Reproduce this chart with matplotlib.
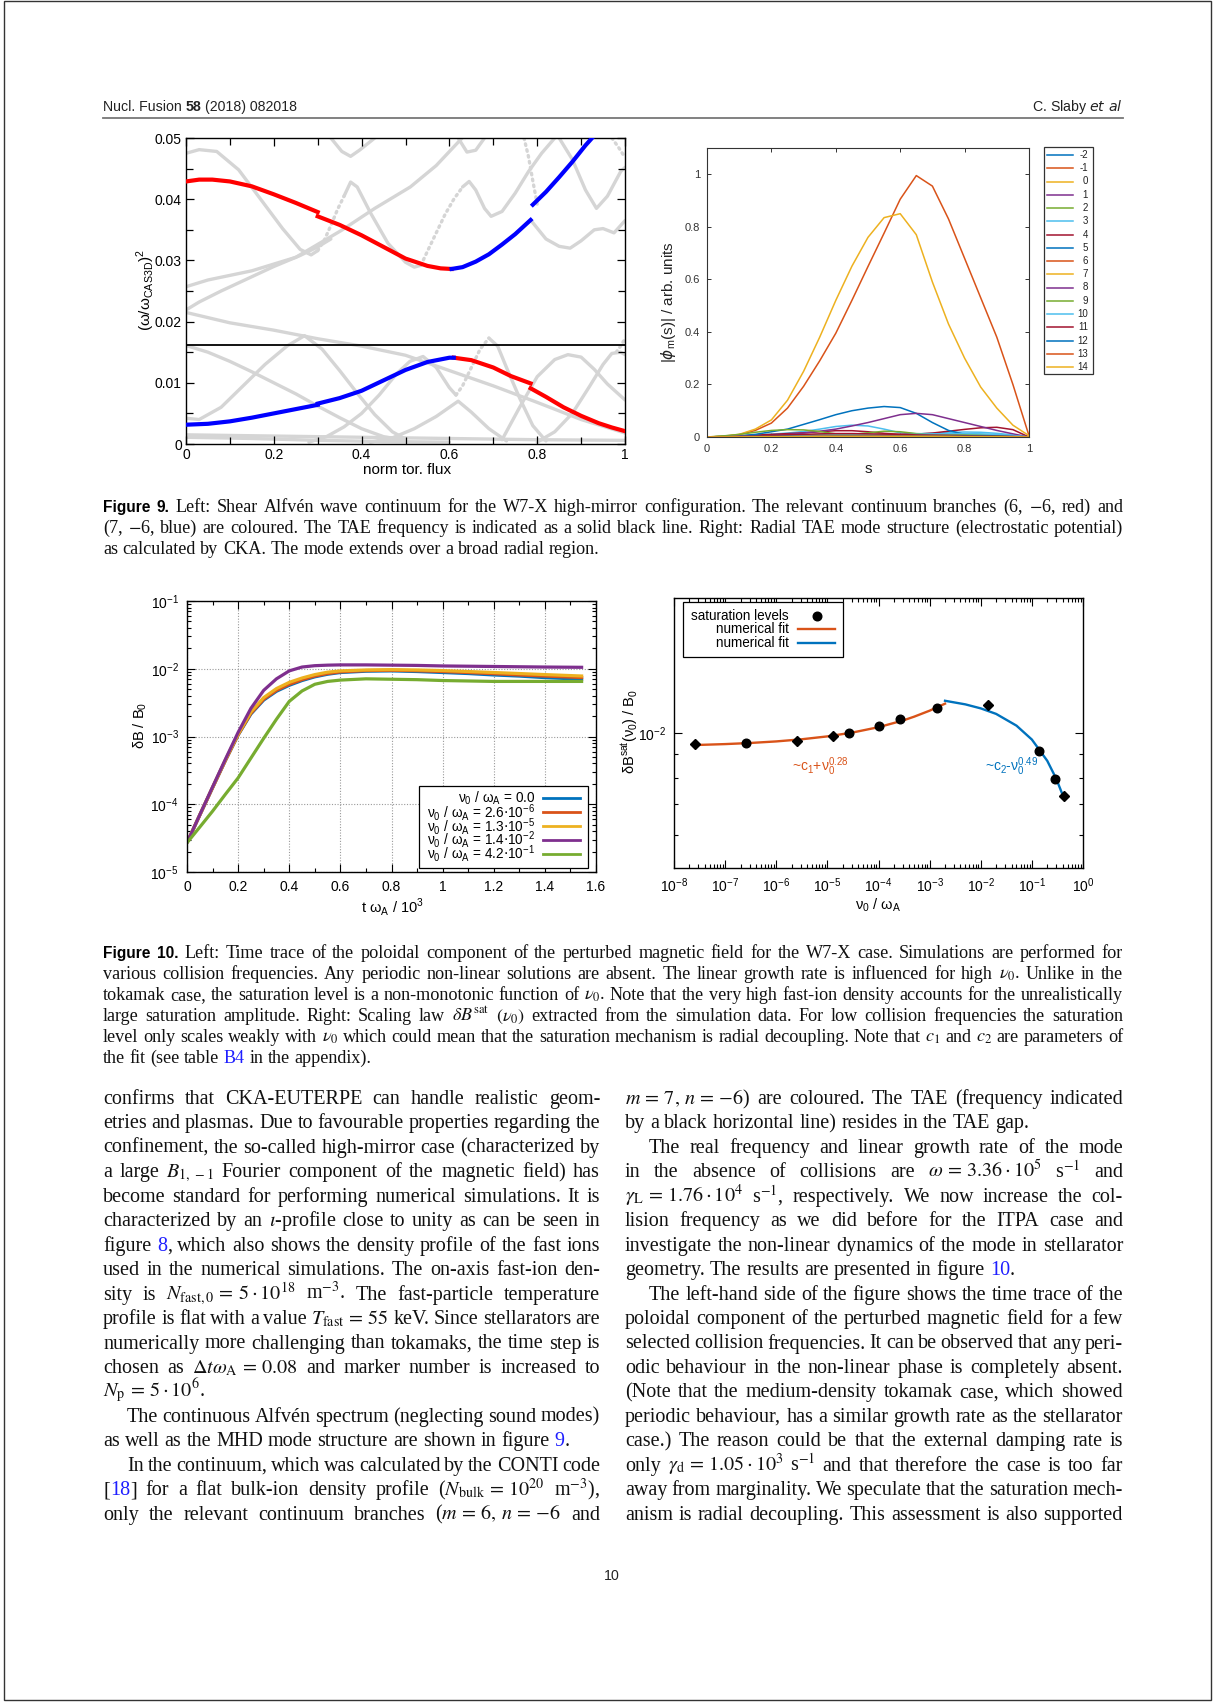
import matplotlib
matplotlib.use("Agg")
import matplotlib.pyplot as plt
from matplotlib.lines import Line2D
from matplotlib.patches import Rectangle
from matplotlib.ticker import FixedLocator, LogLocator, NullFormatter

plt.rcParams['font.family'] = ['Liberation Sans', 'DejaVu Sans']
plt.rcParams['mathtext.fontset'] = 'dejavusans'

# ---------------------------------------------------------------- data
# figure 9 left: shear Alfven continuum, (x = norm. tor. flux, y = (w/w_CAS3D)^2)
TAE_FREQ = 0.0161
GRAY_SOLID = [
    ([0, 0.03, 0.07, 0.12, 0.17, 0.22, 0.26, 0.285, 0.30],
     [0.0475, 0.0481, 0.0478, 0.0448, 0.0400, 0.0352, 0.0318, 0.0309, 0.0316]),
    ([0.36, 0.375, 0.39, 0.42, 0.46, 0.50, 0.52, 0.535],
     [0.0405, 0.0428, 0.0420, 0.0378, 0.0328, 0.0297, 0.0289, 0.0292]),
    ([0.63, 0.645, 0.66, 0.68, 0.695, 0.72, 0.75, 0.78, 0.81, 0.84],
     [0.0420, 0.0429, 0.0415, 0.0385, 0.0372, 0.0380, 0.0410, 0.0445, 0.0475, 0.0500]),
    ([0.785, 0.82, 0.85, 0.875, 0.90, 0.93, 0.95, 0.975, 1.0],
     [0.0366, 0.0335, 0.0323, 0.0320, 0.0332, 0.0350, 0.0352, 0.0345, 0.0365]),
    ([0.85, 0.88, 0.91, 0.935, 0.96, 0.99, 1.0],
     [0.0500, 0.0465, 0.0415, 0.0385, 0.0405, 0.0445, 0.0452]),
    ([0, 0.05, 0.15, 0.25, 0.354, 0.43, 0.511, 0.57, 0.629],
     [0.0257, 0.0268, 0.0283, 0.0305, 0.0349, 0.0385, 0.0420, 0.0455, 0.0500]),
    ([0, 0.03, 0.08, 0.14, 0.20, 0.26, 0.30, 0.33],
     [0.0219, 0.0232, 0.0250, 0.0270, 0.0290, 0.0308, 0.0322, 0.0335]),
    ([0.33, 0.355, 0.375, 0.395, 0.43],
     [0.0500, 0.0478, 0.0470, 0.0480, 0.0500]),
    ([0.62, 0.64, 0.66, 0.68],
     [0.0500, 0.0477, 0.0480, 0.0500]),
    ([0, 0.1, 0.2, 0.3, 0.4, 0.5, 0.6, 0.7, 0.8, 0.9, 1.0],
     [0.0215, 0.0198, 0.0186, 0.0172, 0.0160, 0.0145, 0.0120, 0.0095, 0.0068, 0.0040, 0.0018]),
    ([0, 0.05, 0.1, 0.15, 0.2, 0.25, 0.3, 0.35, 0.4, 0.45, 0.5],
     [0.0161, 0.0150, 0.0135, 0.0118, 0.0100, 0.0082, 0.0062, 0.0043, 0.0025, 0.0012, 0.0006]),
    ([0, 0.03, 0.08, 0.13, 0.18, 0.23, 0.27, 0.31, 0.35, 0.39, 0.43, 0.47, 0.5],
     [0.0042, 0.0040, 0.0060, 0.0095, 0.0130, 0.0160, 0.0177, 0.0155, 0.0120, 0.0083, 0.0048, 0.0020, 0.0008]),
    ([0, 0.2, 0.4, 0.6, 0.8, 1.0],
     [0.0015, 0.0013, 0.0011, 0.0009, 0.0007, 0.0006]),
    ([0, 0.15, 0.3, 0.45, 0.6],
     [0.0011, 0.0009, 0.0006, 0.0004, 0.0003]),
    ([0.28, 0.32, 0.36, 0.40, 0.44, 0.48, 0.51, 0.54, 0.57, 0.60, 0.615],
     [0.0003, 0.0012, 0.0028, 0.0050, 0.0080, 0.0115, 0.0135, 0.0143, 0.0125, 0.0092, 0.0080]),
    ([0.69, 0.71, 0.73, 0.76, 0.79, 0.82],
     [0.0173, 0.0160, 0.0125, 0.0075, 0.0030, 0.0005]),
    ([0.42, 0.47, 0.52, 0.57, 0.60, 0.62, 0.65, 0.69, 0.73],
     [0.0003, 0.0010, 0.0025, 0.0045, 0.0060, 0.0070, 0.0052, 0.0025, 0.0005]),
    ([0.72, 0.76, 0.80, 0.84, 0.87, 0.90, 0.93, 0.96, 1.0],
     [0.0007, 0.0060, 0.0110, 0.0138, 0.0146, 0.0142, 0.0122, 0.0098, 0.0072]),
    ([0.80, 0.84, 0.88, 0.92, 0.95, 0.97, 0.99, 1.0],
     [0.0003, 0.0020, 0.0050, 0.0095, 0.0130, 0.0148, 0.0150, 0.0146]),
]
GRAY_DOTTED = [
    ([0.30, 0.315, 0.33, 0.345, 0.36], [0.0316, 0.0333, 0.0357, 0.0383, 0.0405]),
    ([0.535, 0.55, 0.57, 0.59, 0.61, 0.63], [0.0292, 0.0315, 0.0345, 0.0375, 0.0400, 0.0420]),
    ([0.615, 0.63, 0.65, 0.67, 0.69], [0.0080, 0.0095, 0.0125, 0.0155, 0.0173]),
    ([0.77, 0.78, 0.79, 0.80], [0.0500, 0.0470, 0.0430, 0.0392]),
    ([0.97, 0.985, 1.0], [0.0500, 0.0485, 0.0468]),
    ([0.98, 0.99, 1.0], [0.0150, 0.0160, 0.0172]),
]
RED_BRANCH = [
    ([0, 0.03, 0.06, 0.1, 0.15, 0.2, 0.25, 0.3],
     [0.0429, 0.0432, 0.0432, 0.0429, 0.0421, 0.0408, 0.0394, 0.0379]),
    ([0.3, 0.35, 0.4, 0.45, 0.5, 0.55, 0.58, 0.605],
     [0.0372, 0.0358, 0.0341, 0.0322, 0.0303, 0.0291, 0.0287, 0.0286]),
    ([0.61, 0.65, 0.7, 0.74, 0.785], [0.0141, 0.0137, 0.0125, 0.0111, 0.0099]),
    ([0.785, 0.82, 0.86, 0.9, 0.94, 0.97, 1.0],
     [0.0091, 0.0077, 0.0060, 0.0046, 0.0034, 0.0027, 0.0021]),
]
BLUE_BRANCH = [
    ([0.605, 0.63, 0.66, 0.69, 0.72, 0.75, 0.785],
     [0.0286, 0.0289, 0.0298, 0.0310, 0.0326, 0.0343, 0.0366]),
    ([0.79, 0.82, 0.85, 0.88, 0.91, 0.925], [0.0391, 0.0412, 0.0436, 0.0461, 0.0488, 0.0500]),
    ([0, 0.05, 0.1, 0.15, 0.2, 0.25, 0.3],
     [0.00315, 0.0033, 0.0037, 0.0043, 0.0050, 0.0057, 0.0064]),
    ([0.3, 0.35, 0.4, 0.45, 0.5, 0.55, 0.6, 0.61],
     [0.0066, 0.0075, 0.0087, 0.0104, 0.0121, 0.0134, 0.0141, 0.0141]),
]

# figure 9 right: |phi_m(s)| per poloidal mode number
MODE_NUMBERS = [-2, -1, 0, 1, 2, 3, 4, 5, 6, 7, 8, 9, 10, 11, 12, 13, 14]
MODE_COLORS = ['#0072BD', '#D95319', '#EDB120', '#7E2F8E', '#77AC30', '#4DBEEE', '#A2142F']
S_GRID = [0, 0.05, 0.1, 0.15, 0.2, 0.25, 0.3, 0.35, 0.4, 0.45, 0.5,
          0.55, 0.6, 0.65, 0.7, 0.75, 0.8, 0.85, 0.9, 0.95, 1.0]
PHI = {
    -2: [0, 0, 0.001, 0.001, 0.002, 0.002, 0.002, 0.002, 0.002, 0.002, 0.002, 0.002, 0.002, 0.002, 0.001, 0.001, 0.001, 0.001, 0.001, 0, 0],
    -1: [0, 0, 0.001, 0.002, 0.002, 0.003, 0.003, 0.003, 0.003, 0.003, 0.003, 0.002, 0.002, 0.002, 0.002, 0.002, 0.001, 0.001, 0.001, 0, 0],
    0: [0, 0.001, 0.002, 0.003, 0.004, 0.004, 0.004, 0.005, 0.005, 0.005, 0.005, 0.004, 0.004, 0.004, 0.003, 0.003, 0.003, 0.002, 0.001, 0.001, 0],
    1: [0, 0.001, 0.002, 0.003, 0.004, 0.005, 0.006, 0.006, 0.006, 0.006, 0.006, 0.005, 0.005, 0.004, 0.004, 0.003, 0.003, 0.002, 0.002, 0.001, 0],
    2: [0, 0.002, 0.004, 0.006, 0.007, 0.008, 0.008, 0.008, 0.008, 0.008, 0.008, 0.007, 0.007, 0.006, 0.006, 0.005, 0.004, 0.003, 0.002, 0.001, 0],
    3: [0, 0.002, 0.004, 0.008, 0.011, 0.015, 0.021, 0.030, 0.040, 0.045, 0.042, 0.030, 0.016, 0.012, 0.014, 0.017, 0.019, 0.018, 0.014, 0.008, 0],
    4: [0, 0.002, 0.004, 0.007, 0.010, 0.013, 0.016, 0.020, 0.024, 0.024, 0.020, 0.014, 0.010, 0.011, 0.015, 0.022, 0.029, 0.035, 0.037, 0.028, 0],
    5: [0, 0.002, 0.004, 0.010, 0.020, 0.030, 0.048, 0.066, 0.085, 0.100, 0.110, 0.116, 0.112, 0.090, 0.055, 0.025, 0.010, 0.006, 0.004, 0.002, 0],
    6: [0, 0.002, 0.009, 0.025, 0.053, 0.110, 0.193, 0.290, 0.395, 0.520, 0.649, 0.776, 0.905, 0.995, 0.955, 0.830, 0.680, 0.530, 0.380, 0.200, 0.005],
    7: [0, 0.003, 0.010, 0.030, 0.065, 0.140, 0.250, 0.380, 0.520, 0.650, 0.760, 0.835, 0.850, 0.770, 0.590, 0.430, 0.300, 0.190, 0.110, 0.045, 0.005],
    8: [0, 0.001, 0.002, 0.003, 0.005, 0.009, 0.015, 0.022, 0.030, 0.042, 0.055, 0.070, 0.085, 0.090, 0.085, 0.070, 0.055, 0.040, 0.025, 0.012, 0],
    9: [0, 0.004, 0.010, 0.018, 0.025, 0.028, 0.027, 0.021, 0.012, 0.010, 0.016, 0.022, 0.020, 0.013, 0.011, 0.011, 0.010, 0.009, 0.007, 0.004, 0],
    10: [0, 0.001, 0.002, 0.003, 0.004, 0.005, 0.006, 0.007, 0.007, 0.007, 0.007, 0.007, 0.008, 0.010, 0.012, 0.013, 0.013, 0.012, 0.010, 0.006, 0],
    11: [0, 0.001, 0.002, 0.004, 0.006, 0.008, 0.010, 0.012, 0.013, 0.013, 0.012, 0.011, 0.010, 0.008, 0.007, 0.006, 0.005, 0.004, 0.003, 0.002, 0],
    12: [0, 0, 0.001, 0.002, 0.002, 0.003, 0.003, 0.003, 0.004, 0.004, 0.004, 0.004, 0.004, 0.004, 0.004, 0.003, 0.003, 0.003, 0.002, 0.001, 0],
    13: [0, 0, 0.001, 0.001, 0.002, 0.002, 0.002, 0.003, 0.003, 0.003, 0.003, 0.003, 0.003, 0.003, 0.003, 0.002, 0.002, 0.002, 0.001, 0.001, 0],
    14: [0, 0, 0, 0.001, 0.001, 0.001, 0.002, 0.002, 0.002, 0.002, 0.002, 0.002, 0.002, 0.002, 0.002, 0.002, 0.001, 0.001, 0.001, 0, 0],
}

# figure 10 left: time traces dB/B0 for several collision frequencies
TIME = [0, 0.05, 0.1, 0.15, 0.2, 0.25, 0.3, 0.35, 0.4, 0.45, 0.5, 0.55,
        0.6, 0.7, 0.8, 0.9, 1.0, 1.1, 1.2, 1.3, 1.4, 1.55]
TRACE_LABELS = [r'0.0', r'2.6$\cdot$10$^{\mathregular{-6}}$', r'1.3$\cdot$10$^{\mathregular{-5}}$',
                r'1.4$\cdot$10$^{\mathregular{-2}}$', r'4.2$\cdot$10$^{\mathregular{-1}}$']
TRACE_COLORS = ['#0072bd', '#d95319', '#edb120', '#7e2f8e', '#77ac30']
TRACES = [
    [2.7e-5, 6.9e-5, 1.75e-4, 4.4e-4, 1.05e-3, 2.15e-3, 3.45e-3, 4.65e-3, 5.7e-3, 6.7e-3, 7.6e-3, 8.3e-3,
     8.8e-3, 9.2e-3, 9.3e-3, 9.1e-3, 8.8e-3, 8.5e-3, 8.1e-3, 7.8e-3, 7.4e-3, 7.0e-3],
    [2.7e-5, 6.9e-5, 1.75e-4, 4.4e-4, 1.06e-3, 2.2e-3, 3.55e-3, 4.8e-3, 5.9e-3, 6.9e-3, 7.8e-3, 8.5e-3,
     9.0e-3, 9.4e-3, 9.5e-3, 9.35e-3, 9.1e-3, 8.8e-3, 8.45e-3, 8.1e-3, 7.8e-3, 7.4e-3],
    [2.7e-5, 7.0e-5, 1.78e-4, 4.5e-4, 1.08e-3, 2.3e-3, 3.75e-3, 5.1e-3, 6.3e-3, 7.3e-3, 8.2e-3, 8.9e-3,
     9.3e-3, 9.6e-3, 9.7e-3, 9.6e-3, 9.4e-3, 9.1e-3, 8.8e-3, 8.5e-3, 8.2e-3, 7.8e-3],
    [2.7e-5, 7.0e-5, 1.8e-4, 4.6e-4, 1.15e-3, 2.6e-3, 4.8e-3, 7.1e-3, 9.3e-3, 1.06e-2, 1.11e-2, 1.13e-2,
     1.14e-2, 1.14e-2, 1.13e-2, 1.12e-2, 1.10e-2, 1.09e-2, 1.08e-2, 1.07e-2, 1.06e-2, 1.05e-2],
    [2.7e-5, 4.6e-5, 7.9e-5, 1.4e-4, 2.45e-4, 4.8e-4, 9.4e-4, 1.8e-3, 3.3e-3, 4.7e-3, 5.9e-3, 6.5e-3,
     6.8e-3, 7.1e-3, 7.0e-3, 6.9e-3, 6.7e-3, 6.6e-3, 6.5e-3, 6.5e-3, 6.5e-3, 6.5e-3],
]

# figure 10 right: saturation level vs collision frequency
NU = [2.6e-8, 2.6e-7, 2.6e-6, 1.3e-5, 2.6e-5, 1.0e-4, 2.6e-4, 1.4e-3, 1.4e-2, 1.4e-1, 2.8e-1, 4.2e-1]
SAT = [9.48e-3, 9.50e-3, 9.62e-3, 9.87e-3, 9.98e-3, 1.034e-2, 1.071e-2, 1.136e-2, 1.153e-2, 9.12e-3, 7.95e-3, 7.29e-3]
SAT_MARKERS = ['D', 'o', 'D', 'D', 'o', 'o', 'o', 'o', 'D', 'o', 'o', 'D']
FIT1_NU = [2.6e-8, 1e-7, 3e-7, 1e-6, 3e-6, 1e-5, 3e-5, 1e-4, 3e-4, 5e-4, 1e-3, 2e-3]
FIT1_VAL = [9.417e-3, 9.462e-3, 9.513e-3, 9.59e-3, 9.688e-3, 9.835e-3, 1.002e-2, 1.030e-2, 1.065e-2,
            1.086e-2, 1.119e-2, 1.159e-2]
FIT2_NU = [2e-3, 5e-3, 1e-2, 2e-2, 5e-2, 0.1, 0.2, 0.3, 0.4]
FIT2_VAL = [1.176e-2, 1.155e-2, 1.132e-2, 1.101e-2, 1.038e-2, 9.68e-3, 8.70e-3, 7.95e-3, 7.33e-3]

# ---------------------------------------------------------------- text
CAPTION_9 = [
    "#Figure# #9.# Left: Shear Alfvén wave continuum for the W7-X high-mirror configuration. The relevant continuum branches (6, $-$6, red) and",
    "(7, $-$6, blue) are coloured. The TAE frequency is indicated as a solid black line. Right: Radial TAE mode structure (electrostatic potential)",
    "as calculated by CKA. The mode extends over a broad radial region.",
]
CAPTION_10 = [
    "#Figure# #10.# Left: Time trace of the poloidal component of the perturbed magnetic field for the W7-X case. Simulations are performed for",
    r"various collision frequencies. Any periodic non-linear solutions are absent. The linear growth rate is influenced for high $\nu_0$. Unlike in the",
    r"tokamak case, the saturation level is a non-monotonic function of $\nu_0$. Note that the very high fast-ion density accounts for the unrealistically",
    r"large saturation amplitude. Right: Scaling law $\delta{B}^{\mathrm{sat}}$ $(\nu_0)$ extracted from the simulation data. For low collision frequencies the saturation",
    r"level only scales weakly with $\nu_0$ which could mean that the saturation mechanism is radial decoupling. Note that $c_1$ and $c_2$ are parameters of",
    "the fit (see table @B4@ in the appendix).",
]
# (text, justified, indented)
LEFT_COLUMN = [
    ("confirms that CKA-EUTERPE can handle realistic geom-", True, False),
    ("etries and plasmas. Due to favourable properties regarding the", True, False),
    ("confinement, the so-called high-mirror case (characterized by", True, False),
    (r"a large $B_{1,\,-1}$ Fourier component of the magnetic field) has", True, False),
    ("become standard for performing numerical simulations. It is", True, False),
    (r"characterized by an $\iota$-profile close to unity as can be seen in", True, False),
    ("figure @8@, which also shows the density profile of the fast ions", True, False),
    ("used in the numerical simulations. The on-axis fast-ion den-", True, False),
    (r"sity is $N_{\mathrm{fast,0}}\,=\,5\cdot10^{18}$ m$^{-3}$. The fast-particle temperature", True, False),
    (r"profile is flat with a value $T_{\mathrm{fast}}\,=\,55$ keV. Since stellarators are", True, False),
    ("numerically more challenging than tokamaks, the time step is", True, False),
    (r"chosen as $\Delta{t}\omega_{\mathrm{A}}\,=\,0.08$ and marker number is increased to", True, False),
    (r"$N_{\mathrm{p}}\,=\,5\cdot10^{6}$.", False, False),
    ("The continuous Alfvén spectrum (neglecting sound modes)", True, True),
    ("as well as the MHD mode structure are shown in figure @9@.", False, False),
    ("In the continuum, which was calculated by the CONTI code", True, True),
    (r"[@18@] for a flat bulk-ion density profile ($N_{\mathrm{bulk}}\,=\,10^{20}$ m$^{-3}$),", True, False),
    (r"only the relevant continuum branches ($m\,=\,6,\,n\,=\,{-6}$ and", True, False),
]
RIGHT_COLUMN = [
    (r"$m\,=\,7,\,n\,=\,{-6}$) are coloured. The TAE (frequency indicated", True, False),
    ("by a black horizontal line) resides in the TAE gap.", False, False),
    ("The real frequency and linear growth rate of the mode", True, True),
    (r"in the absence of collisions are $\omega\,=\,3.36\cdot10^{5}$ s$^{-1}$ and", True, False),
    (r"$\gamma_{\mathrm{L}}\,=\,1.76\cdot10^{4}$ s$^{-1}$, respectively. We now increase the col-", True, False),
    ("lision frequency as we did before for the ITPA case and", True, False),
    ("investigate the non-linear dynamics of the mode in stellarator", True, False),
    ("geometry. The results are presented in figure @10@.", False, False),
    ("The left-hand side of the figure shows the time trace of the", True, True),
    ("poloidal component of the perturbed magnetic field for a few", True, False),
    ("selected collision frequencies. It can be observed that any peri-", True, False),
    ("odic behaviour in the non-linear phase is completely absent.", True, False),
    ("(Note that the medium-density tokamak case, which showed", True, False),
    ("periodic behaviour, has a similar growth rate as the stellarator", True, False),
    ("case.) The reason could be that the external damping rate is", True, False),
    (r"only $\gamma_{\mathrm{d}}\,=\,1.05\cdot10^{3}$ s$^{-1}$ and that therefore the case is too far", True, False),
    ("away from marginality. We speculate that the saturation mech-", True, False),
    ("anism is radial decoupling. This assessment is also supported", True, False),
]

# ---------------------------------------------------------------- page helpers
W, H = 1214, 1702
fig = plt.figure(figsize=(W / 100, H / 100), dpi=100)
renderer = fig.canvas.get_renderer()
SERIF = 'Liberation Serif'
LINK = '#1f1fff'


def fx(x):
    return x / W


def fy(y):
    return 1 - y / H


def ax_px(left, top, right, bottom):
    return fig.add_axes([fx(left), fy(bottom), (right - left) / W, (bottom - top) / H])


def fig_line(x0, x1, y0, y1, **kw):
    fig.add_artist(Line2D([fx(x0), fx(x1)], [fy(y0), fy(y1)], transform=fig.transFigure, **kw))


def width_of(t):
    return t.get_window_extent(renderer).width


def fit_size(s, target, **kw):
    t = fig.text(0, 0, s, fontsize=10, **kw)
    w = width_of(t)
    t.remove()
    return 10 * target / w


def word_pieces(word, size):
    if word.startswith('#') and word.endswith('#'):
        return [(word.strip('#'), dict(family='Liberation Sans', weight='bold',
                                       fontsize=size * 0.86, color='black'))]
    out = []
    for i, part in enumerate(word.split('@')):
        if part:
            out.append((part, dict(family=SERIF, fontsize=size, math_fontfamily='stix',
                                   color=LINK if i % 2 else '#111111')))
    return out


def draw_line(line, x0, x1, y, size, justify=True, indent=0):
    words = line.split()
    placed, total = [], 0
    for w in words:
        arts, ww = [], 0
        for s, kw in word_pieces(w, size):
            t = fig.text(0, 0, s, va='baseline', ha='left', **kw)
            wd = width_of(t)
            arts.append((t, wd))
            ww += wd
        placed.append((arts, ww))
        total += ww
    start = x0 + indent
    if justify and len(words) > 1:
        gap = (x1 - start - total) / (len(words) - 1)
    else:
        gap = size * 100 / 72 * 0.25
    x = start
    for arts, ww in placed:
        xx = x
        for t, wd in arts:
            t.set_position((fx(xx), fy(y)))
            xx += wd
        x += ww + gap


# ---------------------------------------------------------------- page frame and header
fig.add_artist(Rectangle((fx(4), fy(1700)), (1211 - 4) / W, (1700 - 1) / H,
                         transform=fig.transFigure, fill=False, ec='#333333', lw=1.0))
hsize = fit_size("Nucl. Fusion 58 (2018) 082018", 195, family='Liberation Sans')
hx = 103
for s, wt in [("Nucl. Fusion", 'normal'), ("58", 'bold'), ("(2018) 082018", 'normal')]:
    t = fig.text(fx(hx), fy(111), s, fontsize=hsize, weight=wt, color='#222222', va='baseline')
    hx += width_of(t) + hsize * 100 / 72 * 0.278
t = fig.text(fx(1123), fy(111), "C. Slaby $\\mathit{et\\ al}$", fontsize=hsize, color='#222222',
             va='baseline', ha='right')
fig_line(103, 1123, 118, 118, color='#777777', lw=1.3)

# ---------------------------------------------------------------- figure 9 left
ax1 = ax_px(186, 138, 625, 444)
for xs, ys in GRAY_SOLID:
    ax1.plot(xs, ys, color='#d5d5d5', lw=2.4, solid_capstyle='round', solid_joinstyle='round', zorder=1)
for xs, ys in GRAY_DOTTED:
    ax1.plot(xs, ys, color='#d5d5d5', lw=2.4, ls=(0, (0.5, 1.3)), dash_capstyle='round', zorder=1)
ax1.axhline(TAE_FREQ, color='black', lw=1.3, zorder=3)
for xs, ys in RED_BRANCH:
    ax1.plot(xs, ys, color='#ff0000', lw=3.0, zorder=4)
for xs, ys in BLUE_BRANCH:
    ax1.plot(xs, ys, color='#0000ff', lw=3.0, zorder=4)
ax1.set_xlim(0, 1)
ax1.set_ylim(0, 0.05)
ax1.set_xticks([0, 0.2, 0.4, 0.6, 0.8, 1.0], ['0', '0.2', '0.4', '0.6', '0.8', '1'])
ax1.set_yticks([0, 0.01, 0.02, 0.03, 0.04, 0.05], ['0', '0.01', '0.02', '0.03', '0.04', '0.05'])
ax1.xaxis.set_minor_locator(FixedLocator([0.1, 0.3, 0.5, 0.7, 0.9]))
ax1.yaxis.set_minor_locator(FixedLocator([0.005, 0.015, 0.025, 0.035, 0.045]))
ax1.tick_params(which='both', direction='in', top=True, right=True, width=0.9, labelsize=10, pad=3)
ax1.tick_params(which='major', length=6)
ax1.tick_params(which='minor', length=5)
for sp in ax1.spines.values():
    sp.set_linewidth(1.0)
fig.text(fx(407), fy(470), 'norm tor. flux', fontsize=11, ha='center', va='center')
fig.text(fx(146), fy(290), r'(ω/ω$_{\mathregular{CAS3D}}$)$^{\mathregular{2}}$', fontsize=11,
         rotation=90, ha='center', va='center')

# ---------------------------------------------------------------- figure 9 right
ax2 = ax_px(707, 148, 1029, 437)
for i, m in enumerate(MODE_NUMBERS):
    ax2.plot(S_GRID, PHI[m], color=MODE_COLORS[i % len(MODE_COLORS)], lw=1.1)
ax2.set_xlim(0, 1)
ax2.set_ylim(0, 1.1)
ax2.set_xticks([0, 0.2, 0.4, 0.6, 0.8, 1.0], ['0', '0.2', '0.4', '0.6', '0.8', '1'])
ax2.set_yticks([0, 0.2, 0.4, 0.6, 0.8, 1.0], ['0', '0.2', '0.4', '0.6', '0.8', '1'])
ax2.tick_params(direction='in', top=True, right=True, length=3, width=0.7, labelsize=8,
                labelcolor='#333333', color='#333333', pad=5)
for sp in ax2.spines.values():
    sp.set_linewidth(0.8)
    sp.set_color('#333333')
fig.text(fx(868), fy(469), 's', fontsize=11, ha='center', va='center', color='#222222')
fig.text(fx(668), fy(302), r'|$\phi_{\mathregular{m}}$(s)| / arb. units', fontsize=11,
         rotation=90, ha='center', va='center', color='#222222')
# mode legend
fig.add_artist(Rectangle((fx(1044), fy(374)), 49 / W, 227 / H, transform=fig.transFigure,
                         fill=False, ec='#333333', lw=0.9))
for i, m in enumerate(MODE_NUMBERS):
    yy = 155 + i * 13.25
    fig_line(1047, 1073, yy, yy, color=MODE_COLORS[i % len(MODE_COLORS)], lw=1.1)
    fig.text(fx(1088), fy(yy), str(m), fontsize=7, ha='right', va='center', color='#222222')

# ---------------------------------------------------------------- figure 10 left
ax3 = ax_px(187, 601, 596, 872)
for ys, c in zip(TRACES, TRACE_COLORS):
    ax3.plot(TIME, ys, color=c, lw=2.3, solid_capstyle='butt')
ax3.set_yscale('log')
ax3.set_xlim(0, 1.6)
ax3.set_ylim(1e-5, 1e-1)
ax3.set_xticks([0, 0.2, 0.4, 0.6, 0.8, 1.0, 1.2, 1.4, 1.6],
               ['0', '0.2', '0.4', '0.6', '0.8', '1', '1.2', '1.4', '1.6'])
ax3.xaxis.set_minor_locator(FixedLocator([0.1, 0.3, 0.5, 0.7, 0.9, 1.1, 1.3, 1.5]))
ax3.set_yticks([1e-5, 1e-4, 1e-3, 1e-2, 1e-1],
               [r'$\mathregular{10^{-%d}}$' % k for k in (5, 4, 3, 2, 1)])
ax3.yaxis.set_minor_locator(LogLocator(base=10, subs=range(2, 10)))
ax3.yaxis.set_minor_formatter(NullFormatter())
ax3.grid(True, which='major', color='#9a9a9a', lw=0.8, ls=(0, (1, 1.5)))
ax3.tick_params(which='both', direction='in', top=True, right=True, width=0.8, labelsize=10, pad=6)
ax3.tick_params(which='major', length=6)
ax3.tick_params(which='minor', length=3)
for sp in ax3.spines.values():
    sp.set_linewidth(1.0)
fig.text(fx(392), fy(907), r't ω$_{\mathregular{A}}$ / 10$^{\mathregular{3}}$', fontsize=10.5,
         ha='center', va='center')
fig.text(fx(140), fy(725), r'δB / B$_{\mathregular{0}}$', fontsize=10.5, rotation=90,
         ha='center', va='center')
fig.add_artist(Rectangle((fx(419), fy(868)), 169 / W, 82 / H, transform=fig.transFigure,
                         fill=True, fc='white', ec='black', lw=0.9, zorder=5))
leg3_size = 0.98 * fit_size(r'ν$_{\mathregular{0}}$ / ω$_{\mathregular{A}}$ = 0.0', 79)
for i, (lab, c) in enumerate(zip(TRACE_LABELS, TRACE_COLORS)):
    yy = 798 + i * 14
    fig_line(543, 580, yy, yy, color=c, lw=2.0, zorder=6)
    fig.text(fx(535), fy(yy), r'ν$_{\mathregular{0}}$ / ω$_{\mathregular{A}}$ = ' + lab, fontsize=leg3_size,
             ha='right', va='center', zorder=6)

# ---------------------------------------------------------------- figure 10 right
ax4 = ax_px(674, 598, 1083, 868)
ax4.plot(FIT1_NU, FIT1_VAL, color='#d95319', lw=1.7, zorder=2)
ax4.plot(FIT2_NU, FIT2_VAL, color='#0072bd', lw=1.7, zorder=2)
for x, y, mk in zip(NU, SAT, SAT_MARKERS):
    ax4.plot([x], [y], marker=mk, color='black', ms=6.2 if mk == 'o' else 5.2, ls='none', zorder=3)
ax4.set_xscale('log')
ax4.set_yscale('log')
ax4.set_xlim(1e-8, 1)
ax4.set_ylim(5.08e-3, 1.97e-2)
ax4.set_xticks([10.0 ** k for k in range(-8, 1)],
               [r'$\mathregular{10^{%d}}$' % k for k in range(-8, 1)])
ax4.xaxis.set_minor_locator(LogLocator(base=10, subs=range(2, 10), numticks=20))
ax4.xaxis.set_minor_formatter(NullFormatter())
ax4.set_yticks([1e-2], [r'$\mathregular{10^{-2}}$'])
ax4.yaxis.set_minor_locator(LogLocator(base=10, subs=range(2, 10)))
ax4.yaxis.set_minor_formatter(NullFormatter())
ax4.tick_params(which='both', direction='in', top=True, right=True, width=0.8, labelsize=10, pad=6)
ax4.tick_params(which='major', length=6)
ax4.tick_params(which='minor', length=3)
for sp in ax4.spines.values():
    sp.set_linewidth(1.0)
ax4.text(2.06e-6, 8.46e-3, r'~c$_{\mathregular{1}}$+ν$_{\mathregular{0}}^{\mathregular{0.28}}$',
         color='#d95319', fontsize=10, va='center', ha='left')
ax4.text(1.22e-2, 8.46e-3, r'~c$_{\mathregular{2}}$-ν$_{\mathregular{0}}^{\mathregular{0.49}}$',
         color='#0072bd', fontsize=10, va='center', ha='left')
fig.text(fx(878), fy(905), r'ν$_{\mathregular{0}}$ / ω$_{\mathregular{A}}$', fontsize=10.5,
         ha='center', va='center')
fig.text(fx(630), fy(732), r'δB$^{\mathregular{sat}}$(ν$_{\mathregular{0}}$) / B$_{\mathregular{0}}$',
         fontsize=10.5, rotation=90, ha='center', va='center')
fig.add_artist(Rectangle((fx(683), fy(657)), 160 / W, 55 / H, transform=fig.transFigure,
                         fill=True, fc='white', ec='black', lw=0.9, zorder=5))
leg4_size = fit_size('saturation levels', 98)
fig.text(fx(789), fy(616), 'saturation levels', fontsize=leg4_size, ha='right', va='center', zorder=6)
fig.add_artist(Line2D([fx(817)], [fy(616)], marker='o', color='black', ms=6.2,
                      transform=fig.transFigure, zorder=6))
for yy, c in [(629, '#d95319'), (643, '#0072bd')]:
    fig.text(fx(789), fy(yy), 'numerical fit', fontsize=leg4_size, ha='right', va='center', zorder=6)
    fig_line(798, 835, yy, yy, color=c, lw=1.7, zorder=6)

# ---------------------------------------------------------------- captions and body text
cap_size = fit_size("as calculated by CKA. The mode extends over a broad radial region.", 496,
                    family=SERIF)
for i, line in enumerate(CAPTION_9):
    draw_line(line, 103, 1123, 512 + i * 21, cap_size, justify=i < len(CAPTION_9) - 1)
for i, line in enumerate(CAPTION_10):
    draw_line(line, 103, 1123, 958 + i * 21, cap_size, justify=i < len(CAPTION_10) - 1)

body_size = fit_size("as well as the MHD mode structure are shown in figure 9.", 466, family=SERIF)
for col, (x0, x1) in [(LEFT_COLUMN, (103, 600)), (RIGHT_COLUMN, (625, 1123))]:
    for i, (line, just, ind) in enumerate(col):
        draw_line(line, x0, x1, 1104 + i * 24.45, body_size, justify=just, indent=24 if ind else 0)

fig.text(fx(612), fy(1580), '10', fontsize=hsize, ha='center', va='baseline', color='#222222')

fig.savefig('out.png', dpi=100, facecolor='white')
